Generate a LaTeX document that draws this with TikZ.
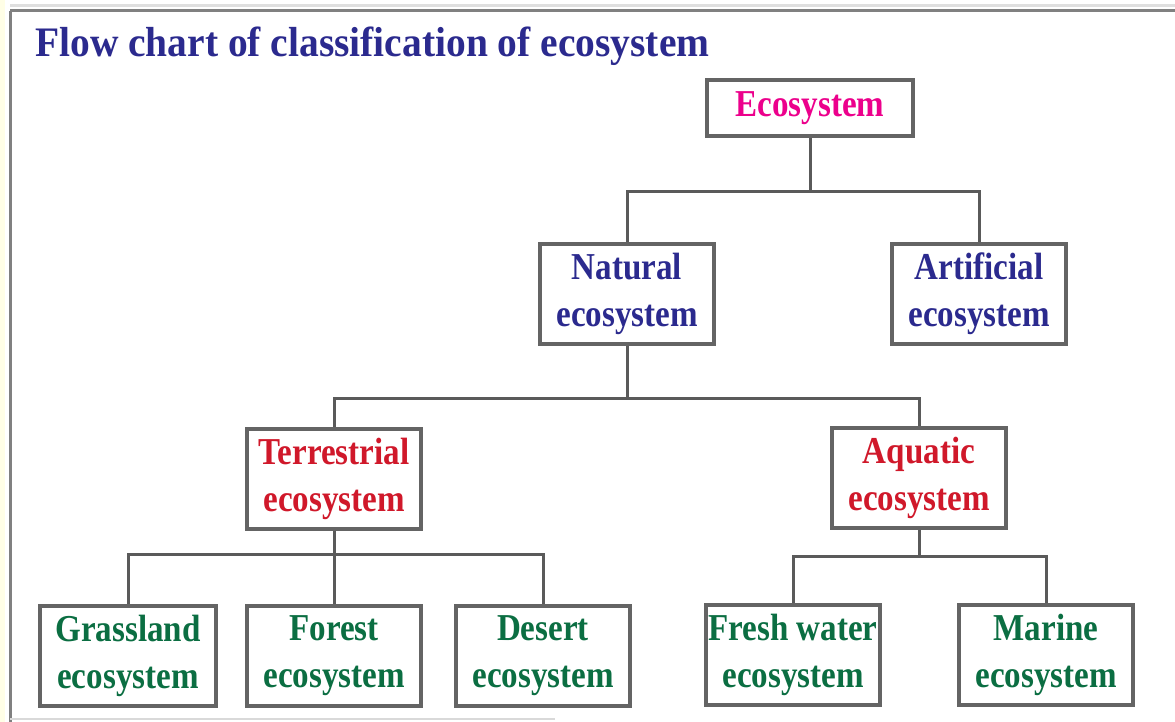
\documentclass[tikz,border=0pt]{standalone}
\usepackage{fontspec}
\setmainfont{Liberation Serif}[FakeStretch=0.87]
\newfontfamily\titlefont{Liberation Serif}[FakeStretch=0.94]
\usetikzlibrary{positioning}
\definecolor{navy}{HTML}{2B2A8E}
\definecolor{rootpink}{HTML}{EC008C}
\definecolor{midred}{HTML}{D0182A}
\definecolor{leafgreen}{HTML}{0B6E42}
\definecolor{boxgray}{HTML}{646464}
\definecolor{linkgray}{HTML}{5A5A5A}

\begin{document}
\begin{tikzpicture}[x=1pt,y=-1pt,
  box/.style={draw=boxgray,line width=3.5pt,fill=white,minimum width=174pt,minimum height=100pt,inner sep=0pt,align=center,font=\fontsize{38}{47}\selectfont\bfseries},
  link/.style={linkgray,line width=3pt}]
  \useasboundingbox (0,0) rectangle (1175,722);

  % Frame
  \fill[yellow!10] (0,0) rectangle (5,722);
  \draw[gray!25,line width=3pt] (10,6) -- (1175,6);
  \draw[gray,line width=3pt] (10,11) -- (1175,11);
  \draw[gray,line width=3pt] (10,11) -- (10,722);
  \draw[gray!30,line width=2pt] (10,719) -- (555,719);

  % Title
  \node[anchor=base west,inner sep=0pt,text=navy,font=\titlefont\fontsize{42}{50}\selectfont\bfseries] (title) at (35,57) {Flow chart of classification of ecosystem};

  % Root
  \node[box,minimum width=206pt,minimum height=56pt,text=rootpink] (eco) at (810,108) {Ecosystem};

  % Level 1
  \node[box,text=navy] (natural) at (627,294) {Natural\\ecosystem};
  \node[box,text=navy] (artificial) at (979,294) {Artificial\\ecosystem};

  % Level 2
  \node[box,text=midred] (terrestrial) at (334,479) {Terrestrial\\ecosystem};
  \node[box,text=midred] (aquatic) at (919,478) {Aquatic\\ecosystem};

  % Level 3
  \node[box,minimum width=176pt,text=leafgreen] (grassland) at (128,656) {Grassland\\ecosystem};
  \node[box,text=leafgreen] (forest) at (334,656) {Forest\\ecosystem};
  \node[box,text=leafgreen] (desert) at (543,656) {Desert\\ecosystem};
  \node[box,text=leafgreen] (freshwater) at (793,655) {Fresh water\\ecosystem};
  \node[box,text=leafgreen] (marine) at (1046,655) {Marine\\ecosystem};

  % Connectors
  \draw[link] (eco.south) -- ++(0,54) -| (natural.north);
  \draw[link] (eco.south) -- ++(0,54) -| (artificial.north);
  \draw[link] (natural.south) -- ++(0,53) -| (terrestrial.north);
  \draw[link] (natural.south) -- ++(0,53) -| (aquatic.north);
  \draw[link] (terrestrial.south) -- ++(0,24) -| (grassland.north);
  \draw[link] (terrestrial.south) -- (forest.north);
  \draw[link] (terrestrial.south) -- ++(0,24) -| (desert.north);
  \draw[link] (aquatic.south) -- ++(0,27) -| (freshwater.north);
  \draw[link] (aquatic.south) -- ++(0,27) -| (marine.north);
\end{tikzpicture}
\end{document}
